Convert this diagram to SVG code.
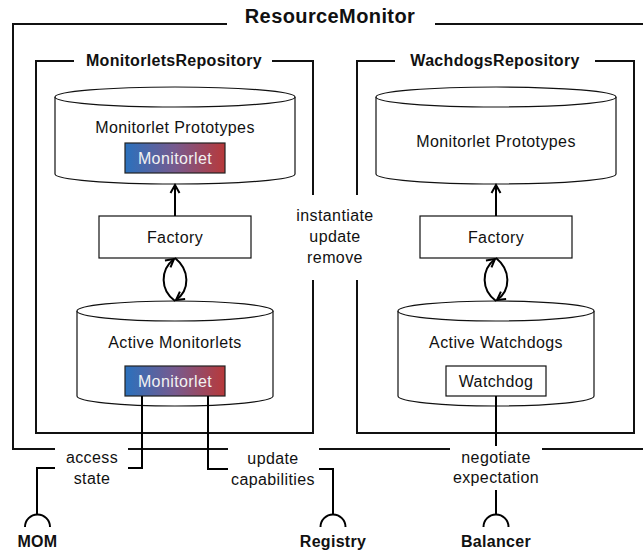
<svg xmlns="http://www.w3.org/2000/svg" width="643" height="554" viewBox="0 0 643 554">
<style>
text{font-family:"Liberation Sans",Arial,sans-serif;fill:#111;text-anchor:middle}
.t{font-size:16px;letter-spacing:0.4px}
.b{font-size:16px;font-weight:bold;letter-spacing:0.3px}
.big{font-size:20px;font-weight:bold;letter-spacing:0.4px}
.w{fill:#f2f2f2}
.frame{fill:none;stroke:#111;stroke-width:2}
.cyl{fill:#fff;stroke:#111;stroke-width:1.2}
.box{fill:#fff;stroke:#111;stroke-width:1.2}
.grad{fill:url(#g);stroke:#222;stroke-width:1.2}
.ln{fill:none;stroke:#000;stroke-width:2}
</style>
<defs>
<linearGradient id="g" x1="0" y1="0" x2="1" y2="0">
<stop offset="0" stop-color="#2a71bd"/>
<stop offset="0.5" stop-color="#775a8e"/>
<stop offset="1" stop-color="#b8393a"/>
</linearGradient>
<marker id="arr" markerUnits="userSpaceOnUse" markerWidth="14" markerHeight="14" viewBox="-10 -7 14 14" refX="0" refY="0" orient="auto">
<path d="M-8,-4.5 L0,0 L-8,4.5" fill="none" stroke="#000" stroke-width="2"/>
</marker>
</defs>

<g id="ResourceMonitor">
<path class="frame" d="M227,24 H13 V449 H55 M128,449 H228 M319,449 H450 M542,449 H646 M435,24 H646"/>
<text class="big" x="330" y="23">ResourceMonitor</text>
</g>

<g id="MonitorletsRepository">
<path class="frame" d="M74,61 H36 V433 H313 V280 M313,195 V61 H272"/>
<text class="b" x="174" y="66">MonitorletsRepository</text>
</g>

<g id="WachdogsRepository">
<path class="frame" d="M395,61 H357 V195 M357,280 V433 H634 V61 H595"/>
<text class="b" x="495" y="66">WachdogsRepository</text>
</g>

<g id="MonitorletPrototypesL">
<path class="cyl" d="M55,97 V174 A120,10 0 0 0 295,174 V97"/>
<ellipse class="cyl" cx="175" cy="97" rx="120" ry="10"/>
<text class="t" x="175" y="133">Monitorlet Prototypes</text>
<rect class="grad" x="125" y="143" width="100" height="30"/>
<text class="t w" x="175" y="164">Monitorlet</text>
</g>

<g id="FactoryL">
<rect class="box" x="99" y="216" width="152" height="42"/>
<text class="t" x="175" y="243">Factory</text>
</g>

<g id="ActiveMonitorlets">
<path class="cyl" d="M77,311 V396 A98,10 0 0 0 273,396 V311"/>
<ellipse class="cyl" cx="175" cy="311" rx="98" ry="10"/>
<text class="t" x="175" y="348">Active Monitorlets</text>
<rect class="grad" x="125" y="366" width="100" height="30"/>
<text class="t w" x="175" y="387">Monitorlet</text>
</g>

<g id="MonitorletPrototypesR">
<path class="cyl" d="M376,97 V174 A120,10 0 0 0 616,174 V97"/>
<ellipse class="cyl" cx="496" cy="97" rx="120" ry="10"/>
<text class="t" x="496" y="147">Monitorlet Prototypes</text>
</g>

<g id="FactoryR">
<rect class="box" x="420" y="216" width="152" height="42"/>
<text class="t" x="496" y="243">Factory</text>
</g>

<g id="ActiveWatchdogs">
<path class="cyl" d="M398,311 V396 A98,10 0 0 0 594,396 V311"/>
<ellipse class="cyl" cx="496" cy="311" rx="98" ry="10"/>
<text class="t" x="496" y="348">Active Watchdogs</text>
<rect class="box" x="446" y="366" width="100" height="30"/>
<text class="t" x="496" y="387">Watchdog</text>
</g>

<g id="MOM">
<path class="ln" d="M25,527 A12.5,12.5 0 0 1 50,527"/>
<text class="b" x="37.5" y="547">MOM</text>
</g>
<g id="Registry">
<path class="ln" d="M320.5,527 A12.5,12.5 0 0 1 345.5,527"/>
<text class="b" x="333" y="547">Registry</text>
</g>
<g id="Balancer">
<path class="ln" d="M483.5,527 A12.5,12.5 0 0 1 508.5,527"/>
<text class="b" x="496" y="547">Balancer</text>
</g>

<g id="connectors">
<line class="ln" x1="175" y1="216" x2="175" y2="185" marker-end="url(#arr)"/>
<line class="ln" x1="496" y1="216" x2="496" y2="185" marker-end="url(#arr)"/>
<path class="ln" d="M175,301 C160,290 160,270 174,259" marker-end="url(#arr)"/>
<path class="ln" d="M175,258 C190,270 190,290 176,300" marker-end="url(#arr)"/>
<path class="ln" d="M496,301 C481,290 481,270 495,259" marker-end="url(#arr)"/>
<path class="ln" d="M496,258 C511,270 511,290 497,300" marker-end="url(#arr)"/>
<text class="t" x="335" y="221">instantiate</text>
<text class="t" x="335" y="242">update</text>
<text class="t" x="335" y="263">remove</text>

<path class="ln" d="M142,396 V468 H128 M55,468 H37 V514.5"/>
<text class="t" x="92" y="463">access</text>
<text class="t" x="92" y="484">state</text>

<path class="ln" d="M208,396 V469 H228 M319,469 H333 V514.5"/>
<text class="t" x="273" y="464">update</text>
<text class="t" x="273" y="485">capabilities</text>

<path class="ln" d="M496,396 V446 M496,490 V514.5"/>
<text class="t" x="496" y="463">negotiate</text>
<text class="t" x="496" y="483">expectation</text>
</g>
</svg>
